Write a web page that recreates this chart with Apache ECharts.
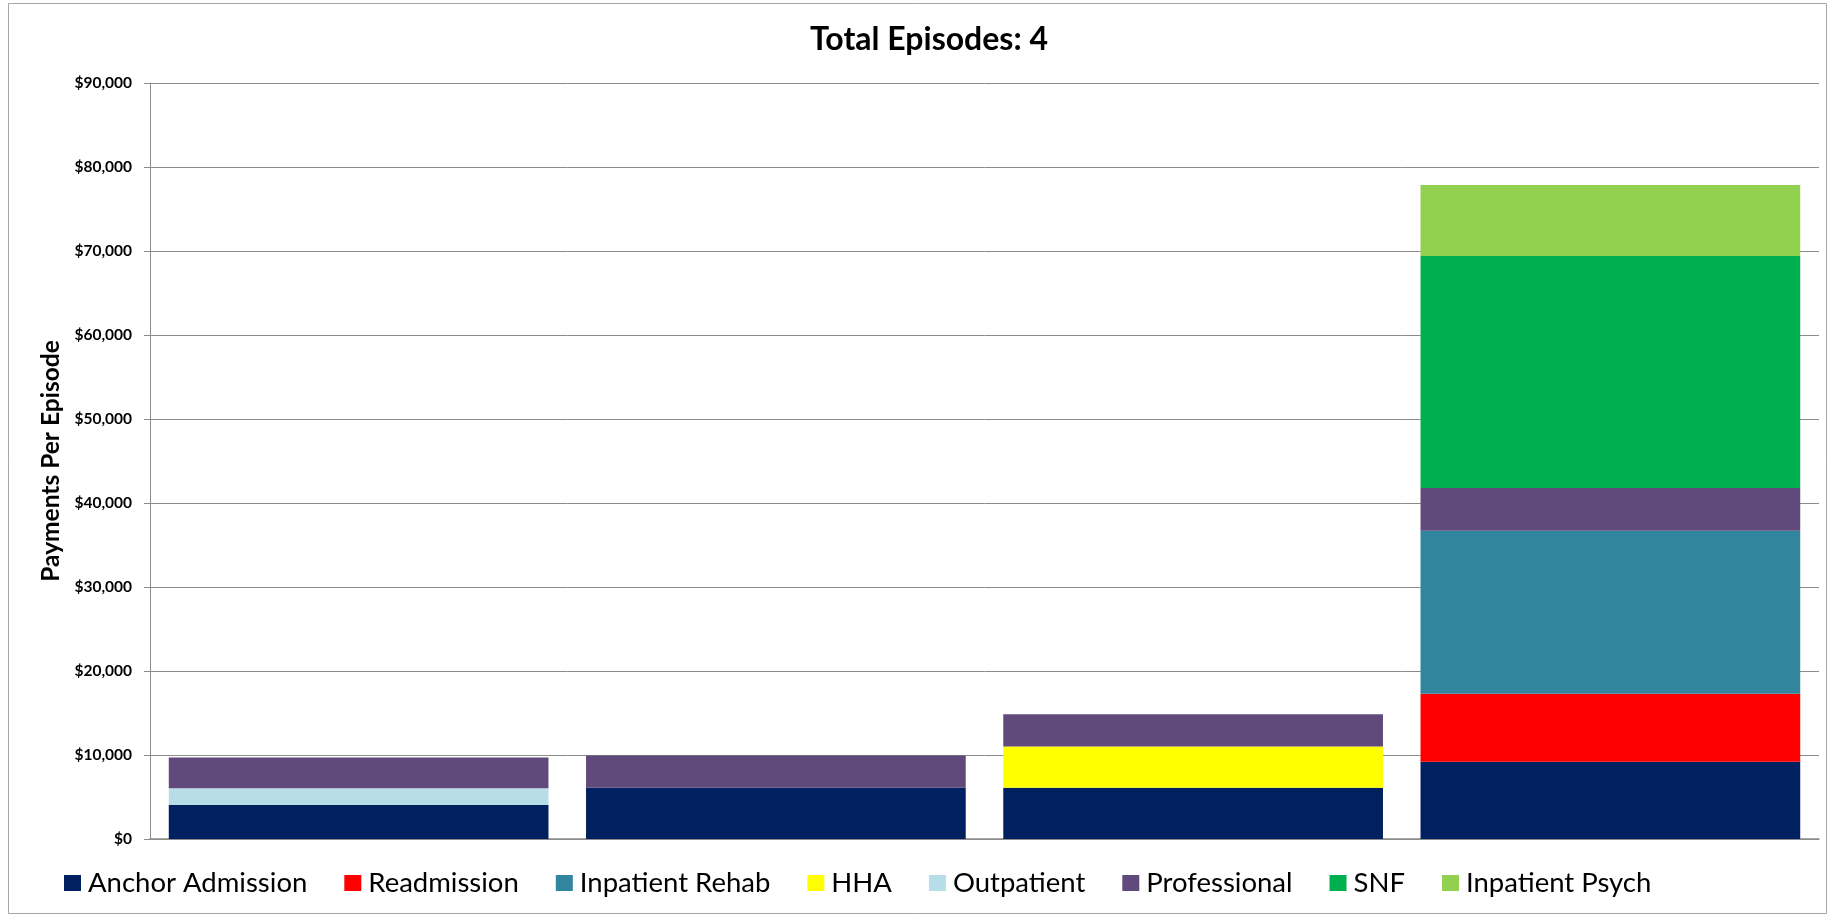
<!DOCTYPE html>
<html>
<head>
<meta charset="utf-8">
<script src="https://cdn.jsdelivr.net/npm/echarts@6/dist/echarts.min.js"></script>
<style>
  html, body { margin: 0; padding: 0; background: #fff; }
  #chart { width: 1834px; height: 917px; }
</style>
</head>
<body>
<div id="chart"></div>
<script>
// episodes (x labels are hidden in the original)
const episodes = ['Episode 1', 'Episode 2', 'Episode 3', 'Episode 4']

// payment components per episode, in stack order (bottom -> top)
const anchorAdmission = [4050, 6100, 6100, 9200]
const readmission     = [0, 0, 0, 8100]
const inpatientRehab  = [0, 0, 0, 19400]
const hha             = [0, 0, 4900, 0]
const outpatient      = [2000, 0, 0, 0]
const professional    = [3650, 3850, 3850, 5100]
const snf             = [0, 0, 0, 27600]
const inpatientPsych  = [0, 0, 0, 8450]

const yTicks = { min: 0, max: 90000, interval: 10000 }

const seriesDefs = [
  ['Anchor Admission', anchorAdmission, '#002060'],
  ['Readmission', readmission, '#FF0000'],
  ['Inpatient Rehab', inpatientRehab, '#31859C'],
  ['HHA', hha, '#FFFF00'],
  ['Outpatient', outpatient, '#B7DEE8'],
  ['Professional', professional, '#604A7B'],
  ['SNF', snf, '#00B050'],
  ['Inpatient Psych', inpatientPsych, '#92D050']
]

const gridColor = '#8c8c8c'
const font = 'Lato, "Open Sans", sans-serif'

const chart = echarts.init(document.getElementById('chart'))

chart.setOption({
  animation: false,
  backgroundColor: '#fff',
  textStyle: { fontFamily: font },
  title: {
    text: 'Total Episodes: 4',
    left: 810,
    top: 24,
    padding: 0,
    textStyle: { fontFamily: font, fontSize: 32, fontWeight: 'bold', color: '#000' }
  },
  // outer chart frame
  graphic: [{
    type: 'rect',
    shape: { x: 8.5, y: 3.5, width: 1818, height: 910 },
    style: { fill: 'none', stroke: '#a6a6a6', lineWidth: 1 },
    silent: true
  }],
  legend: {
    left: 64,
    top: 869,
    padding: 0,
    itemWidth: 17,
    itemHeight: 16,
    itemGap: 37,
    icon: 'rect',
    textStyle: { fontFamily: font, fontSize: 27.5, lineHeight: 28, color: '#000', padding: [0, 0, 0, 2] },
    data: seriesDefs.map(d => d[0])
  },
  grid: { left: 150, right: 15, top: 83, bottom: 78 },
  xAxis: {
    type: 'category',
    data: episodes,
    axisLine: { lineStyle: { color: gridColor, width: 1.5 } },
    axisTick: { show: false },
    axisLabel: { show: false }
  },
  yAxis: {
    type: 'value',
    min: yTicks.min,
    max: yTicks.max,
    interval: yTicks.interval,
    name: 'Payments Per Episode',
    nameLocation: 'middle',
    nameGap: 84,
    nameTextStyle: { fontFamily: font, fontSize: 24.5, fontWeight: 'bold', color: '#000' },
    axisLine: { show: true, lineStyle: { color: gridColor, width: 1 } },
    axisTick: { show: true, inside: false, length: 6, lineStyle: { color: gridColor } },
    splitLine: { lineStyle: { color: gridColor, width: 1 } },
    axisLabel: {
      margin: 18,
      fontFamily: font,
      fontSize: 15.5,
      fontWeight: 'bold',
      color: '#000',
      formatter: v => '$' + v.toLocaleString('en-US')
    }
  },
  series: seriesDefs.map(([name, data, color]) => ({
    name,
    type: 'bar',
    stack: 'total',
    data,
    barCategoryGap: '9%',
    itemStyle: { color }
  }))
})

window.addEventListener('resize', () => chart.resize())
</script>
</body>
</html>
